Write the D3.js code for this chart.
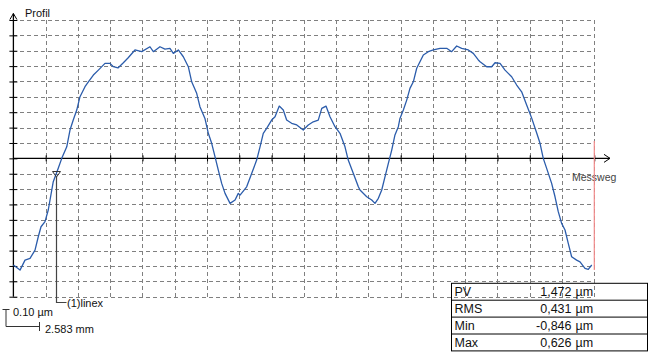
<!DOCTYPE html>
<html><head><meta charset="utf-8">
<script src="https://cdn.jsdelivr.net/npm/d3@7"></script>
<style>
html,body{margin:0;padding:0;background:#fff;}
svg{display:block;font-family:"Liberation Sans",Arial,sans-serif;}
</style></head>
<body><svg id="c" width="648" height="352"></svg>
<script>
// Profile data: position along path (mm) and height (µm)
const profileX = [0.00,0.53,0.93,1.33,1.73,1.99,2.21,2.53,2.79,3.19,3.59,3.87,4.27,4.53,4.79,5.07,5.33,5.73,6.00,6.40,6.80,7.33,7.73,8.00,8.37,8.80,9.17,9.73,10.27,10.93,11.20,11.73,12.13,12.53,12.80,13.20,13.60,14.00,14.27,14.67,14.93,15.33,15.60,15.87,16.14,16.40,16.67,16.94,17.34,17.74,18.00,18.14,18.67,19.07,19.47,19.74,20.00,20.27,20.67,20.94,21.28,21.60,21.87,22.27,22.68,23.20,23.60,24.00,24.40,24.68,25.02,25.34,25.74,26.14,26.54,26.80,27.21,27.61,27.74,28.28,28.68,28.94,29.21,29.48,29.74,30.01,30.28,30.54,30.81,30.94,31.21,31.48,31.74,32.01,32.28,32.54,32.81,33.21,33.61,34.15,34.68,35.08,35.48,35.88,36.41,36.81,37.21,37.35,37.88,38.28,38.55,38.95,39.35,39.88,40.28,40.68,41.08,41.49,41.89,42.15,42.41,42.68,43.08,43.35,43.61,43.88,44.15,44.41,44.68,45.08,45.35,45.75,46.01,46.29];
const profileY = [-0.694,-0.727,-0.662,-0.651,-0.597,-0.510,-0.445,-0.412,-0.336,-0.152,-0.065,0.000,0.075,0.184,0.249,0.314,0.401,0.466,0.498,0.542,0.574,0.618,0.618,0.596,0.588,0.622,0.653,0.705,0.694,0.726,0.694,0.726,0.711,0.716,0.683,0.705,0.661,0.596,0.498,0.423,0.336,0.260,0.163,0.098,0.010,-0.076,-0.163,-0.228,-0.293,-0.271,-0.228,-0.239,-0.185,-0.098,-0.011,0.075,0.163,0.195,0.249,0.271,0.340,0.314,0.249,0.228,0.217,0.184,0.217,0.238,0.249,0.325,0.340,0.271,0.206,0.163,0.075,-0.011,-0.098,-0.185,-0.206,-0.250,-0.271,-0.293,-0.260,-0.206,-0.120,-0.033,0.054,0.152,0.206,0.260,0.314,0.379,0.455,0.498,0.586,0.628,0.672,0.694,0.705,0.716,0.716,0.694,0.731,0.716,0.705,0.683,0.640,0.628,0.596,0.596,0.622,0.618,0.574,0.531,0.477,0.433,0.347,0.260,0.163,0.098,0.000,-0.065,-0.163,-0.250,-0.347,-0.423,-0.466,-0.553,-0.640,-0.662,-0.673,-0.716,-0.722,-0.694];
const xStep = 2.583;        // mm per grid division
const yStep = 0.10;         // µm per grid division
const xTickCount = 18;
const yTickRange = [-9, 9];
const markerX = 3.45;       // (1)linex cursor position (mm)
const markerLabel = "(1)linex";
const endMarkerX = 46.494;  // red end marker (mm)
const statLabels = ["PV","RMS","Min","Max"];
const statValues = ["1,472","0,431","-0,846","0,626"];
const statUnit = "µm";
const yTitle = "Profil";
const xTitle = "Messweg";
const yScaleLabel = "0.10 µm";
const xScaleLabel = "2.583 mm";

const svg = d3.select("#c");
const x = d3.scaleLinear().domain([0, xTickCount*xStep]).range([13.4, 594.3]);
const y = d3.scaleLinear().domain([yTickRange[0]*yStep, yTickRange[1]*yStep]).range([296.7, 20]);
const xTicks = d3.range(0, xTickCount+1).map(i => i*xStep);
const yTicks = d3.range(yTickRange[0], yTickRange[1]+1).map(i => +(i*yStep).toFixed(2));
const x0 = x(0), y0 = y(0);

// grid
const gridCol = "#808080";
svg.append("g").attr("transform", `translate(${x0},0)`)
  .call(d3.axisRight(y).tickValues(yTicks).tickSize(x.range()[1]-x0).tickFormat(""))
  .call(g => g.select(".domain").remove())
  .call(g => g.selectAll("line").attr("stroke", gridCol).attr("stroke-dasharray","4,3").attr("shape-rendering","crispEdges"));
svg.append("g").attr("transform", `translate(0,${y.range()[1]})`)
  .call(d3.axisBottom(x).tickValues(xTicks.slice(1)).tickSize(y.range()[0]-y.range()[1]).tickFormat(""))
  .call(g => g.select(".domain").remove())
  .call(g => g.selectAll("line").attr("stroke", gridCol).attr("stroke-dasharray","4,3").attr("shape-rendering","crispEdges"));

// y axis with ticks on both sides
svg.append("g").attr("transform", `translate(${x0},0)`)
  .call(d3.axisLeft(y).tickValues(yTicks).tickSize(4).tickSizeOuter(0).tickFormat(""))
  .call(g => g.select(".domain").remove())
  .call(g => g.selectAll("line").attr("stroke","#000"));
svg.append("g").attr("transform", `translate(${x0},0)`)
  .call(d3.axisRight(y).tickValues(yTicks).tickSize(4).tickSizeOuter(0).tickFormat(""))
  .call(g => g.select(".domain").remove())
  .call(g => g.selectAll("line").attr("stroke","#000"));
svg.append("line").attr("x1",x0).attr("x2",x0).attr("y1",13.5).attr("y2",y.range()[0]).attr("stroke","#000").attr("stroke-width",1.3);
svg.append("path").attr("d",`M${x0-3.5},${19.5}L${x0},${13.5}L${x0+3.5},${19.5}`).attr("fill","none").attr("stroke","#000");

// x axis (zero line) with ticks
svg.append("g").attr("transform", `translate(0,${y0})`)
  .call(d3.axisBottom(x).tickValues(xTicks.slice(1)).tickSize(3).tickFormat(""))
  .call(g => g.select(".domain").remove())
  .call(g => g.selectAll("line").attr("stroke","#000"));
svg.append("g").attr("transform", `translate(0,${y0})`)
  .call(d3.axisTop(x).tickValues(xTicks.slice(1)).tickSize(3).tickFormat(""))
  .call(g => g.select(".domain").remove())
  .call(g => g.selectAll("line").attr("stroke","#000"));
svg.append("line").attr("x1",x0).attr("x2",610).attr("y1",y0).attr("y2",y0).attr("stroke","#000").attr("stroke-width",1.3);
svg.append("path").attr("d",`M604,${y0-4}L610,${y0}L604,${y0+4}`).attr("fill","none").attr("stroke","#000");

// titles
svg.append("text").attr("x",25).attr("y",17).attr("font-size",11).attr("fill","#111").text(yTitle);
svg.append("text").attr("x",572).attr("y",181).attr("font-size",10.5).attr("fill","#444").text(xTitle);

// red end marker
svg.append("line").attr("x1",x(endMarkerX)).attr("x2",x(endMarkerX)).attr("y1",141).attr("y2",270)
  .attr("stroke","#f28b8b").attr("stroke-width",1.2);

// profile
const pts = profileX.map((v,i) => [v, profileY[i]]);
svg.append("path").datum(pts)
  .attr("d", d3.line().x(d => x(d[0])).y(d => y(d[1])))
  .attr("fill","none").attr("stroke","#2b5cab").attr("stroke-width",1.3).attr("stroke-linejoin","round");

// cursor marker
const mx = x(markerX);
const interp = d3.scaleLinear().domain(profileX).range(profileY);
const my = y(interp(markerX));
svg.append("path").attr("d",`M${mx-4},${my-1.5}L${mx+4},${my-1.5}L${mx},${my+4}Z`).attr("fill","none").attr("stroke","#333");
svg.append("path").attr("d",`M${mx},${my+4}L${mx},302.5L${mx+10},302.5`).attr("fill","none").attr("stroke","#444").attr("stroke-width",1.2);
svg.append("text").attr("x",mx+10.5).attr("y",306.5).attr("font-size",11).attr("fill","#111").text(markerLabel);

// scale bars
svg.append("path").attr("d","M2.5,309.5L9.5,309.5M6,309.5L6,326.5L39.5,326.5M39.5,322L39.5,331")
  .attr("fill","none").attr("stroke","#333");
svg.append("text").attr("x",13).attr("y",316).attr("font-size",11).attr("fill","#111").text(yScaleLabel);
svg.append("text").attr("x",45).attr("y",333).attr("font-size",11).attr("fill","#111").text(xScaleLabel);

// stats table
const tx = 451.5, tTop = 283.3, rowH = 16.9, tRight = 647.5;
const tg = svg.append("g");
tg.append("rect").attr("x",tx).attr("y",tTop).attr("width",tRight-tx).attr("height",rowH*4).attr("fill","none").attr("stroke","#000");
statLabels.forEach((lab,i) => {
  const ry = tTop + rowH*i;
  if (i>0) tg.append("line").attr("x1",tx).attr("x2",tRight).attr("y1",ry).attr("y2",ry).attr("stroke","#000");
  tg.append("text").attr("x",tx+3).attr("y",ry+13).attr("font-size",12.5).attr("fill","#111").text(lab);
  tg.append("text").attr("x",571.5).attr("y",ry+13).attr("font-size",12.5).attr("fill","#111").attr("text-anchor","end").text(statValues[i]);
  tg.append("text").attr("x",575.5).attr("y",ry+13).attr("font-size",12.5).attr("fill","#111").text(statUnit);
});
</script></body></html>
